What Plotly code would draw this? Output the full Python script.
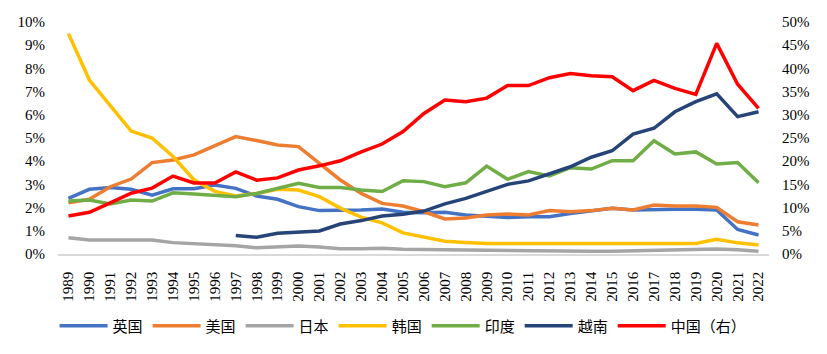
import plotly.graph_objects as go

years = [str(y) for y in range(1989, 2023)]

uk = [2.40, 2.79, 2.87, 2.79, 2.54, 2.81, 2.81, 2.97, 2.83, 2.50, 2.36, 2.04, 1.87, 1.87, 1.90, 1.94, 1.80, 1.78, 1.80, 1.68, 1.64, 1.57, 1.61, 1.61, 1.75, 1.87, 1.97, 1.90, 1.93, 1.93, 1.93, 1.90, 1.06, 0.82]
us = [2.21, 2.36, 2.90, 3.23, 3.94, 4.05, 4.27, 4.66, 5.06, 4.89, 4.70, 4.63, 3.91, 3.19, 2.61, 2.18, 2.07, 1.82, 1.51, 1.55, 1.68, 1.72, 1.68, 1.87, 1.82, 1.87, 1.97, 1.90, 2.11, 2.07, 2.07, 2.01, 1.39, 1.25]
japan = [0.70, 0.60, 0.60, 0.60, 0.60, 0.49, 0.45, 0.39, 0.36, 0.27, 0.29, 0.34, 0.30, 0.23, 0.23, 0.25, 0.20, 0.19, 0.16, 0.18, 0.15, 0.15, 0.14, 0.13, 0.12, 0.12, 0.12, 0.14, 0.17, 0.17, 0.18, 0.22, 0.18, 0.12]
korea = [9.50, 7.50, 6.40, 5.30, 5.00, 4.20, 3.20, 2.70, 2.50, 2.61, 2.79, 2.76, 2.47, 1.98, 1.59, 1.34, 0.91, 0.73, 0.55, 0.50, 0.45, 0.45, 0.45, 0.45, 0.45, 0.45, 0.48, 0.45, 0.48, 0.48, 0.45, 0.63, 0.48, 0.39]
india = [2.28, 2.33, 2.16, 2.33, 2.28, 2.64, 2.59, 2.54, 2.47, 2.61, 2.83, 3.05, 2.87, 2.87, 2.76, 2.69, 3.16, 3.12, 2.90, 3.07, 3.79, 3.22, 3.55, 3.36, 3.72, 3.66, 4.02, 4.02, 4.88, 4.31, 4.40, 3.88, 3.94, 3.07]
vietnam = [None] * 8 + [0.80, 0.72, 0.89, 0.93, 0.99, 1.29, 1.44, 1.64, 1.71, 1.85, 2.16, 2.40, 2.72, 3.00, 3.15, 3.45, 3.76, 4.17, 4.45, 5.17, 5.42, 6.13, 6.57, 6.90, 5.92, 6.13]
china = [8.2, 9.0, 11.0, 13.1, 14.2, 16.8, 15.3, 15.3, 17.7, 15.9, 16.4, 18.1, 19.0, 20.1, 22.0, 23.7, 26.4, 30.3, 33.2, 32.8, 33.6, 36.3, 36.3, 38.0, 38.9, 38.4, 38.2, 35.2, 37.4, 35.7, 34.4, 45.4, 36.6, 31.4]

left_ticks = [0, 1, 2, 3, 4, 5, 6, 7, 8, 9, 10]
right_ticks = [0, 5, 10, 15, 20, 25, 30, 35, 40, 45, 50]

series = [
    ("英国", uk, "#4472C4"),
    ("美国", us, "#ED7D31"),
    ("日本", japan, "#A5A5A5"),
    ("韩国", korea, "#FFC000"),
    ("印度", india, "#70AD47"),
    ("越南", vietnam, "#264478"),
]

fig = go.Figure()
for name, vals, color in series:
    fig.add_trace(go.Scatter(x=years, y=[None if v is None else v / 100 for v in vals],
                             name=name, mode="lines",
                             line=dict(color=color, width=3.5)))
fig.add_trace(go.Scatter(x=years, y=[v / 100 for v in china], name="中国（右）",
                         mode="lines", line=dict(color="#FF0000", width=3.5), yaxis="y2"))

tickfont = dict(family="Liberation Serif, Times New Roman, serif", size=15, color="#000000")

fig.update_layout(
    width=827, height=354,
    margin=dict(l=58, r=58, t=22, b=100, autoexpand=False),
    paper_bgcolor="white", plot_bgcolor="white",
    showlegend=True,
    legend=dict(orientation="h", xref="container", yref="container",
                x=0.066, xanchor="left", y=0.079, yanchor="middle",
                font=dict(family="Noto Sans CJK SC", size=15, color="#000000"),
                itemwidth=48,
                bgcolor="rgba(0,0,0,0)"),
    xaxis=dict(type="category", range=[-0.5, 33.5], tickangle=-90, tickfont=tickfont,
               showgrid=False, showline=True, linecolor="#D9D9D9", linewidth=1.5,
               ticks="", ticklabelstandoff=10, zeroline=False),
    yaxis=dict(range=[0, 0.1], tickvals=[v / 100 for v in left_ticks],
               ticktext=[f"{v}%" for v in left_ticks], tickfont=tickfont,
               showgrid=False, zeroline=False, showline=False, ticks="",
               ticklabelstandoff=12),
    yaxis2=dict(range=[0, 0.5], overlaying="y", side="right",
                tickvals=[v / 100 for v in right_ticks],
                ticktext=[f"{v}%" for v in right_ticks], tickfont=tickfont,
                showgrid=False, zeroline=False, showline=False, ticks="",
                ticklabelstandoff=12),
)

fig.write_html("out.html")
